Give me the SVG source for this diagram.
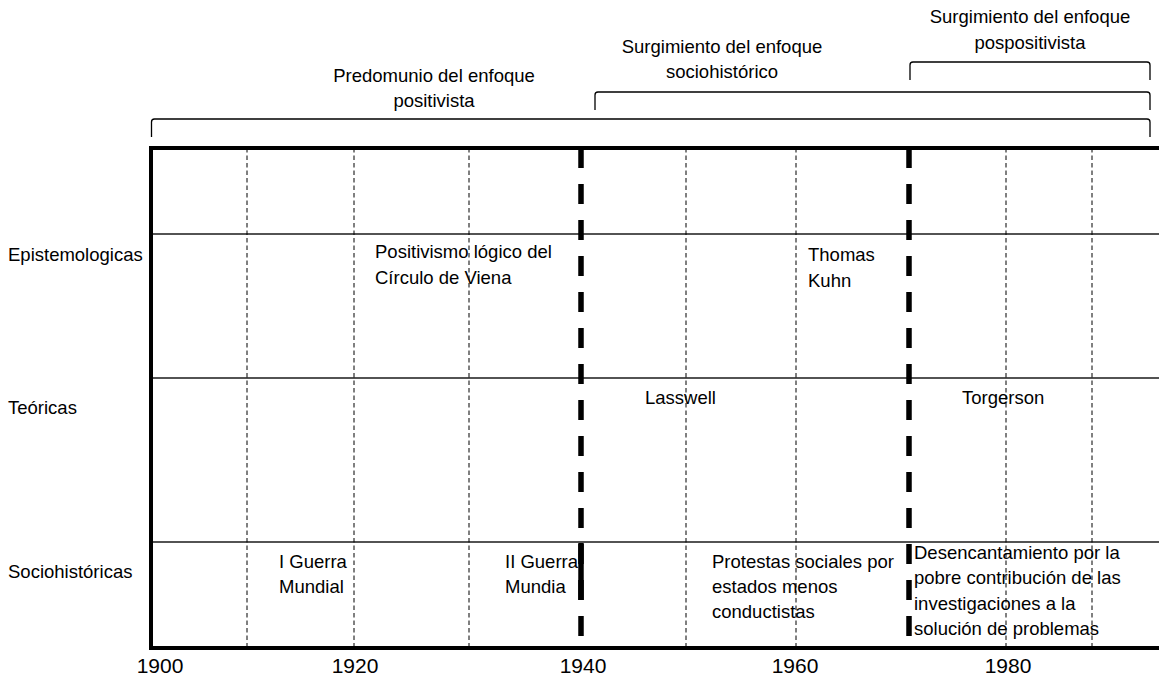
<svg xmlns="http://www.w3.org/2000/svg" width="1159" height="678" viewBox="0 0 1159 678">
  <style>
    text { font-family: "Liberation Sans", Arial, sans-serif; font-size: 18.5px; fill: #000; }
    .year { font-size: 21px; text-anchor: middle; }
    .mid { text-anchor: middle; }
    .brace { fill: none; stroke: #000; stroke-width: 1.3; stroke-linejoin: round; }
    .frame { stroke: #000; stroke-width: 4; fill: none; }
    .row { stroke: #1a1a1a; stroke-width: 1.3; }
    .tick { stroke: #000; stroke-width: 1; stroke-dasharray: 4.5 3; }
    .era { stroke: #000; stroke-width: 5.5; stroke-dasharray: 20 16; }
  </style>

  <rect width="1159" height="678" fill="#fff"/>

  <!-- period brackets and their captions -->
  <g id="periodos">
    <path class="brace" d="M151.5,137 V122 Q151.5,119 154.5,119 H1147 Q1150,119 1150,122 V137"/>
    <path class="brace" d="M595,110 V95 Q595,92 598,92 H1147 Q1150,92 1150,95 V110"/>
    <path class="brace" d="M910,80 V65 Q910,62 913,62 H1147 Q1150,62 1150,65 V80"/>
    <text class="mid" x="434" y="82">Predomunio del enfoque</text>
    <text class="mid" x="434" y="107">positivista</text>
    <text class="mid" x="722" y="53">Surgimiento del enfoque</text>
    <text class="mid" x="722" y="78">sociohistórico</text>
    <text class="mid" x="1030" y="23">Surgimiento del enfoque</text>
    <text class="mid" x="1030" y="49">pospositivista</text>
  </g>

  <!-- grid: rows, decade ticks and frame -->
  <g id="conectores">
    <line class="row" x1="151" y1="234" x2="1159" y2="234"/>
    <line class="row" x1="151" y1="378" x2="1159" y2="378"/>
    <line class="row" x1="151" y1="542" x2="1159" y2="542"/>

    <line class="tick" x1="247" y1="148" x2="247" y2="648"/>
    <line class="tick" x1="354" y1="148" x2="354" y2="648"/>
    <line class="tick" x1="469" y1="148" x2="469" y2="648"/>
    <line class="tick" x1="686" y1="148" x2="686" y2="648"/>
    <line class="tick" x1="796" y1="148" x2="796" y2="648"/>
    <line class="tick" x1="1006" y1="148" x2="1006" y2="648"/>
    <line class="tick" x1="1092" y1="148" x2="1092" y2="648"/>

    <line class="frame" x1="151" y1="148" x2="1159" y2="148"/>
    <line class="frame" x1="151" y1="648" x2="1159" y2="648"/>
    <line class="frame" x1="151" y1="146" x2="151" y2="650"/>
  </g>

  <!-- row headings -->
  <g id="filas">
    <text x="8" y="261">Epistemologicas</text>
    <text x="8" y="414">Teóricas</text>
    <text x="8" y="578">Sociohistóricas</text>
  </g>

  <g id="epistemologicas">
    <text x="375" y="258">Positivismo lógico del</text>
    <text x="375" y="284">Círculo de Viena</text>
    <text x="808" y="261">Thomas</text>
    <text x="808" y="287">Kuhn</text>
  </g>

  <g id="teoricas">
    <text x="645" y="404">Lasswell</text>
    <text x="962" y="404">Torgerson</text>
  </g>

  <g id="sociohistoricas">
    <text x="279" y="568">I Guerra</text>
    <text x="279" y="593">Mundial</text>
    <text x="505" y="568">II Guerra</text>
    <text x="505" y="593">Mundia</text>
    <text x="712" y="568">Protestas sociales por</text>
    <text x="712" y="593">estados menos</text>
    <text x="712" y="618">conductistas</text>
    <text x="914" y="559">Desencantamiento por la</text>
    <text x="914" y="584">pobre contribución de las</text>
    <text x="914" y="610">investigaciones a la</text>
    <text x="914" y="635">solución de problemas</text>
  </g>

  <!-- era boundaries drawn over the text -->
  <g id="cortes">
    <line class="era" x1="581" y1="148" x2="581" y2="648"/>
    <line x1="581" y1="543" x2="581" y2="600" stroke="#000" stroke-width="5.5"/>
    <line class="era" x1="909" y1="148" x2="909" y2="648"/>
  </g>

  <!-- year axis -->
  <g id="anios">
    <text class="year" x="160" y="673">1900</text>
    <text class="year" x="355" y="673">1920</text>
    <text class="year" x="583" y="673">1940</text>
    <text class="year" x="795" y="673">1960</text>
    <text class="year" x="1008" y="673">1980</text>
  </g>
</svg>
